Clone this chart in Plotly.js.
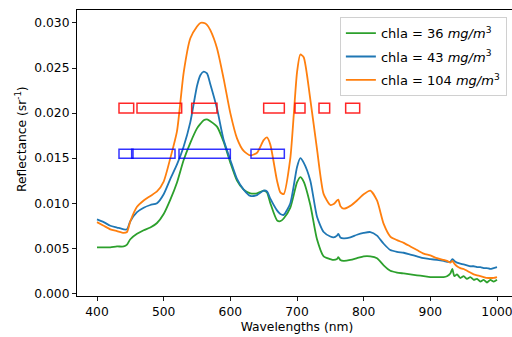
<!DOCTYPE html>
<html>
<head>
<meta charset="utf-8">
<script src="https://cdn.plot.ly/plotly-3.0.1.min.js"></script>
<style>
html,body{margin:0;padding:0;overflow:hidden;background:#fff;width:512px;height:337px;}
#chart{width:530px;height:337px;}
</style>
</head>
<body>
<div id="chart"></div>
<script>
// Wavelengths (nm)
const wavelengths = [400,410,420,430,440,445,450,460,470,480,490,500,510,520,530,540,550,555,560,565,570,580,590,600,610,620,630,640,650,655,660,670,675,680,690,700,705,710,720,730,740,750,755,760,762,765,770,780,790,800,810,820,830,840,850,860,870,880,890,900,910,920,925,930,933,936,940,945,950,955,960,965,970,975,980,985,990,995,1000];

// chla = 36 mg/m3 (green)
const chla36 = [0.0051,0.0051,0.0051,0.0052,0.0052,0.0054,0.0060,0.0066,0.0070,0.0073,0.0078,0.0088,0.0104,0.0123,0.0148,0.0167,0.0183,0.0188,0.0192,0.0193,0.0191,0.0185,0.0168,0.0145,0.0125,0.0115,0.0111,0.0111,0.0114,0.0112,0.0100,0.0081,0.0080,0.0083,0.0095,0.0123,0.0129,0.0124,0.0098,0.0060,0.0041,0.0038,0.0037,0.0038,0.0040,0.0037,0.0036,0.0037,0.0039,0.0041,0.0041,0.0039,0.0031,0.0025,0.0023,0.0022,0.0021,0.0020,0.0019,0.0018,0.0018,0.0018,0.0019,0.0022,0.0027,0.0019,0.0021,0.0017,0.0019,0.0016,0.0018,0.0015,0.0016,0.0013,0.0015,0.0012,0.0015,0.0013,0.0015];

// chla = 43 mg/m3 (blue)
const chla43 = [0.0082,0.0079,0.0075,0.0073,0.0071,0.0071,0.0080,0.0090,0.0095,0.0098,0.0100,0.0110,0.0127,0.0143,0.0163,0.0190,0.0230,0.0242,0.0246,0.0244,0.0232,0.0205,0.0170,0.0148,0.0127,0.0115,0.0108,0.0109,0.0114,0.0113,0.0105,0.0092,0.0088,0.0087,0.0100,0.0140,0.0150,0.0145,0.0125,0.0085,0.0068,0.0063,0.0062,0.0064,0.0066,0.0062,0.0061,0.0062,0.0065,0.0067,0.0068,0.0064,0.0055,0.0048,0.0046,0.0045,0.0043,0.0041,0.0039,0.0038,0.0037,0.0036,0.0035,0.0035,0.0038,0.0036,0.0034,0.0033,0.0032,0.0031,0.0030,0.0030,0.0029,0.0029,0.0028,0.0028,0.0027,0.0028,0.0029];

// chla = 104 mg/m3 (orange)
const chla104 = [0.0079,0.0075,0.0071,0.0069,0.0067,0.0068,0.0080,0.0096,0.0103,0.0108,0.0113,0.0124,0.0150,0.0180,0.0245,0.0283,0.0296,0.0300,0.0300,0.0298,0.0292,0.0272,0.0238,0.0200,0.0172,0.0158,0.0153,0.0156,0.0170,0.0173,0.0165,0.0125,0.0112,0.0110,0.0150,0.0245,0.0265,0.0262,0.0215,0.0160,0.0110,0.0098,0.0099,0.0103,0.0104,0.0097,0.0094,0.0097,0.0103,0.0110,0.0114,0.0103,0.0077,0.0063,0.0059,0.0056,0.0052,0.0048,0.0044,0.0042,0.0039,0.0037,0.0036,0.0034,0.0036,0.0033,0.0030,0.0028,0.0027,0.0025,0.0023,0.0021,0.0020,0.0019,0.0018,0.0017,0.0017,0.0017,0.0018];

// Band boxes (nm start, nm end)
const redBandStart = [433,460,542,650,697,733,773];
const redBandEnd   = [455,527,580,681,712,749,794];
const redBandY     = [0.0200,0.0211];
const blueBandStart = [433,452,523,631];
const blueBandEnd   = [454,517,600,681];
const blueBandY     = [0.0150,0.0160];

const seriesNames = ['chla = 36 <i>mg/m</i><sup>3</sup>','chla = 43 <i>mg/m</i><sup>3</sup>','chla = 104 <i>mg/m</i><sup>3</sup>'];
const seriesColors = ['#2ca02c','#1f77b4','#ff7f0e'];
const seriesData = [chla36, chla43, chla104];

const traces = seriesData.map((ys,i)=>({
  x: wavelengths, y: ys, type:'scatter', mode:'lines', name: seriesNames[i], legendgroup:'g'+i,
  line:{color: seriesColors[i], width:1.8, shape:'spline', smoothing:0.6}
}));

const shapes = [];
redBandStart.forEach((s,i)=>shapes.push({type:'rect',xref:'x',yref:'y',x0:s,x1:redBandEnd[i],y0:redBandY[0],y1:redBandY[1],line:{color:'rgba(255,0,0,0.85)',width:1.5},fillcolor:'rgba(0,0,0,0)'}));
blueBandStart.forEach((s,i)=>shapes.push({type:'rect',xref:'x',yref:'y',x0:s,x1:blueBandEnd[i],y0:blueBandY[0],y1:blueBandY[1],line:{color:'rgba(0,0,255,0.8)',width:1.5},fillcolor:'rgba(0,0,0,0)'}));

const font = {family:'DejaVu Sans', size:12.3, color:'#000'};
const layout = {
  width:530, height:337,
  margin:{l:77, r:13, t:10, b:41},
  paper_bgcolor:'#fff', plot_bgcolor:'#fff',
  font: font,
  showlegend:true,
  legend:{x:0.977, y:0.975, xanchor:'right', yanchor:'top', traceorder:'grouped', tracegroupgap:3.5,
    bgcolor:'rgba(255,255,255,0.8)', bordercolor:'#d0d0d0', borderwidth:1, font:{family:'DejaVu Sans', size:13, color:'#000'}},
  xaxis:{range:[370,1030], tickvals:[400,500,600,700,800,900,1000], ticks:'outside', ticklen:4, tickwidth:0.9, tickcolor:'#000',
    showline:true, linecolor:'#000', linewidth:1, mirror:true, showgrid:false, zeroline:false,
    title:{text:'Wavelengths (nm)', font:{family:'DejaVu Sans', size:12.3}, standoff:4}},
  yaxis:{range:[-0.0003,0.03144], tickvals:[0,0.005,0.01,0.015,0.02,0.025,0.03], tickformat:'.3f', ticks:'outside', ticklen:4, tickwidth:0.9, tickcolor:'#000',
    showline:true, linecolor:'#000', linewidth:1, mirror:true, showgrid:false, zeroline:false},
  annotations:[{text:'Reflectance (sr<sup>-1</sup>)', xref:'paper', yref:'paper', x:(21-77)/440, y:(296-139)/286, xanchor:'center', yanchor:'middle', textangle:-90, showarrow:false, font:{family:'DejaVu Sans', size:12.3, color:'#000'}}],
  shapes: shapes
};
Plotly.newPlot('chart', traces, layout, {staticPlot:true, displayModeBar:false});
</script>
</body>
</html>
